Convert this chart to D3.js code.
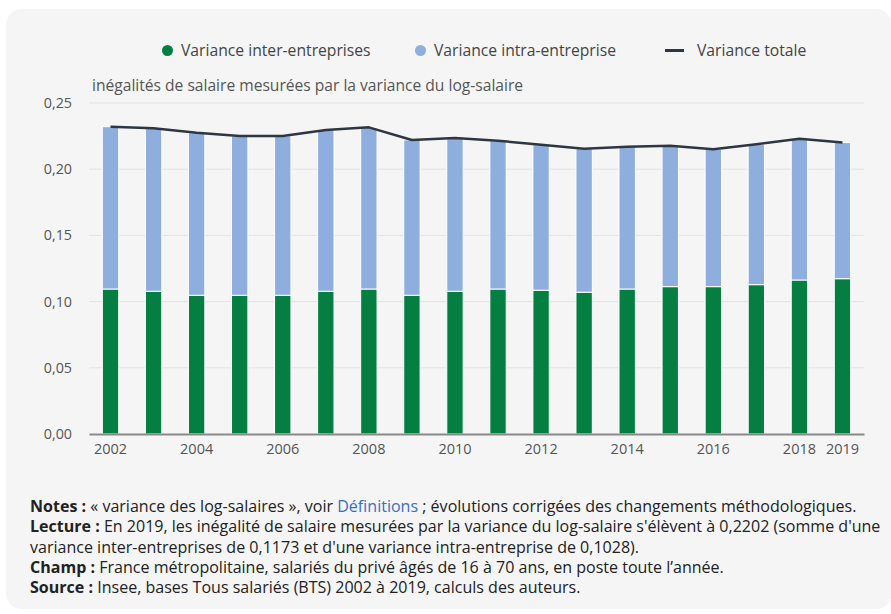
<!DOCTYPE html>
<html>
<head>
<meta charset="utf-8">
<script src="https://cdn.jsdelivr.net/npm/d3@7"></script>
<style>
  body { margin: 0; background: #fff; }
  svg text { font-family: "Open Sans", sans-serif; }
</style>
</head>
<body>
<div id="chart"></div>
<script>
// data
const years = ["2002", "2003", "2004", "2005", "2006", "2007", "2008", "2009", "2010",
    "2011", "2012", "2013", "2014", "2015", "2016", "2017", "2018", "2019"];
const interValues = [0.1095, 0.1078, 0.1048, 0.1048, 0.1048, 0.1078, 0.1095, 0.1048, 0.1078,
    0.1095, 0.1086, 0.1071, 0.1095, 0.1113, 0.1113, 0.1128, 0.1163, 0.1173];
const intraValues = [0.1226, 0.1231, 0.1228, 0.1203, 0.1203, 0.1218, 0.1221, 0.1173, 0.1158,
    0.1120, 0.1099, 0.1084, 0.1075, 0.1065, 0.1037, 0.1060, 0.1067, 0.1028];
const totalValues = [0.2321, 0.2309, 0.2276, 0.2251, 0.2251, 0.2296, 0.2316, 0.2221, 0.2236,
    0.2215, 0.2185, 0.2155, 0.2170, 0.2178, 0.2150, 0.2188, 0.2230, 0.2202];
const yTicks = [0, 0.05, 0.10, 0.15, 0.20, 0.25];
const xTickLabels = ["2002", "2004", "2006", "2008", "2010", "2012", "2014", "2016", "2018", "2019"];
const seriesNames = ["Variance inter-entreprises", "Variance intra-entreprise", "Variance totale"];

const width = 891,
    height = 614;
const margin = { top: 103, right: 27, bottom: 180, left: 89 };
const colors = { inter: "#047f41", intra: "#8eaedd", total: "#2e3641" };

const svg = d3.select("#chart")
    .append("svg")
    .attr("width", width)
    .attr("height", height);

// card background
svg.append("rect")
    .attr("x", 6)
    .attr("y", 9)
    .attr("width", 886)
    .attr("height", 600)
    .attr("rx", 16)
    .attr("fill", "#f5f5f5");

const x = d3.scaleBand()
    .domain(years)
    .range([margin.left, width - margin.right])
    .paddingInner(0.62)
    .paddingOuter(0.31);

const y = d3.scaleLinear()
    .domain([0, 0.25])
    .range([height - margin.bottom, margin.top]);

const fmt = d3.formatLocale({ decimal: ",", thousands: " ", grouping: [3], currency: ["", "€"] }).format(".2f");

// gridlines
svg.append("g")
    .selectAll("line")
    .data(yTicks.slice(1))
    .join("line")
    .attr("x1", margin.left)
    .attr("x2", width - margin.right)
    .attr("y1", d => y(d))
    .attr("y2", d => y(d))
    .attr("stroke", "#e3e3e3")
    .attr("stroke-width", 1);

// y axis labels
const yAxis = svg.append("g")
    .attr("transform", "translate(" + (margin.left) + ",0)")
    .call(d3.axisLeft(y).tickValues(yTicks).tickFormat(fmt).tickSize(0).tickPadding(17));
yAxis.select(".domain").remove();
yAxis.selectAll("text")
    .attr("font-size", 14.3)
    .attr("fill", "#555")
    .attr("font-family", "Open Sans, sans-serif");

// y axis title
svg.append("text")
    .attr("x", 92)
    .attr("y", 91)
    .attr("font-size", 15.6)
    .attr("fill", "#555")
    .text("inégalités de salaire mesurées par la variance du log-salaire");

// stacked bars
const stacked = years.map((yr, i) => ({ year: yr, inter: interValues[i], intra: intraValues[i] }));
const series = d3.stack().keys(["inter", "intra"])(stacked);

svg.append("g")
    .selectAll("g")
    .data(series)
    .join("g")
    .attr("fill", d => colors[d.key])
    .selectAll("rect")
    .data(d => d)
    .join("rect")
    .attr("x", d => x(d.data.year))
    .attr("width", x.bandwidth())
    .attr("y", d => y(d[1]))
    .attr("height", d => y(d[0]) - y(d[1]))
    .attr("stroke", "#fff")
    .attr("stroke-width", 1);

// x axis
const xAxis = svg.append("g")
    .attr("transform", "translate(0," + (height - margin.bottom) + ")")
    .call(d3.axisBottom(x).tickValues(xTickLabels).tickSize(0).tickPadding(10));
xAxis.select(".domain")
    .attr("stroke", "#8a8a8a")
    .attr("stroke-width", 2);
xAxis.selectAll("text")
    .attr("font-size", 14.5)
    .attr("fill", "#555")
    .attr("font-family", "Open Sans, sans-serif");

// total line
const line = d3.line()
    .x((d, i) => x(years[i]) + x.bandwidth() / 2)
    .y(d => y(d));

svg.append("path")
    .datum(totalValues)
    .attr("d", line)
    .attr("fill", "none")
    .attr("stroke", colors.total)
    .attr("stroke-width", 2.5)
    .attr("stroke-linejoin", "round");

// legend
const legend = svg.append("g").attr("font-size", 15.7).attr("fill", "#444");
legend.append("circle").attr("cx", 167.5).attr("cy", 50.5).attr("r", 5.5).attr("fill", colors.inter);
legend.append("text").attr("x", 181).attr("y", 56).text(seriesNames[0]);
legend.append("circle").attr("cx", 420.5).attr("cy", 50.5).attr("r", 5.5).attr("fill", colors.intra);
legend.append("text").attr("x", 434).attr("y", 56).text(seriesNames[1]);
legend.append("line").attr("x1", 665).attr("x2", 684).attr("y1", 50.5).attr("y2", 50.5)
    .attr("stroke", colors.total).attr("stroke-width", 3);
legend.append("text").attr("x", 697).attr("y", 56).text(seriesNames[2]);

// notes
const notes = [
    [["Notes : ", "b"], ["« variance des log-salaires », voir ", ""], ["Définitions", "a"], [" ; évolutions corrigées des changements méthodologiques.", ""]],
    [["Lecture : ", "b"], ["En 2019, les inégalité de salaire mesurées par la variance du log-salaire s'élèvent à 0,2202 (somme d'une", ""]],
    [["variance inter-entreprises de 0,1173 et d'une variance intra-entreprise de 0,1028).", ""]],
    [["Champ : ", "b"], ["France métropolitaine, salariés du privé âgés de 16 à 70 ans, en poste toute l’année.", ""]],
    [["Source : ", "b"], ["Insee, bases Tous salariés (BTS) 2002 à 2019, calculs des auteurs.", ""]]
];

const notesG = svg.append("g").attr("font-size", 16.05).attr("fill", "#222");
notes.forEach((parts, i) => {
    const t = notesG.append("text")
        .attr("x", 30)
        .attr("y", 512 + i * 20.3);
    parts.forEach(p => {
        t.append("tspan")
            .attr("font-weight", p[1] === "b" ? 700 : 400)
            .attr("fill", p[1] === "a" ? "#3a6ec0" : null)
            .text(p[0]);
    });
});
</script>
</body>
</html>
